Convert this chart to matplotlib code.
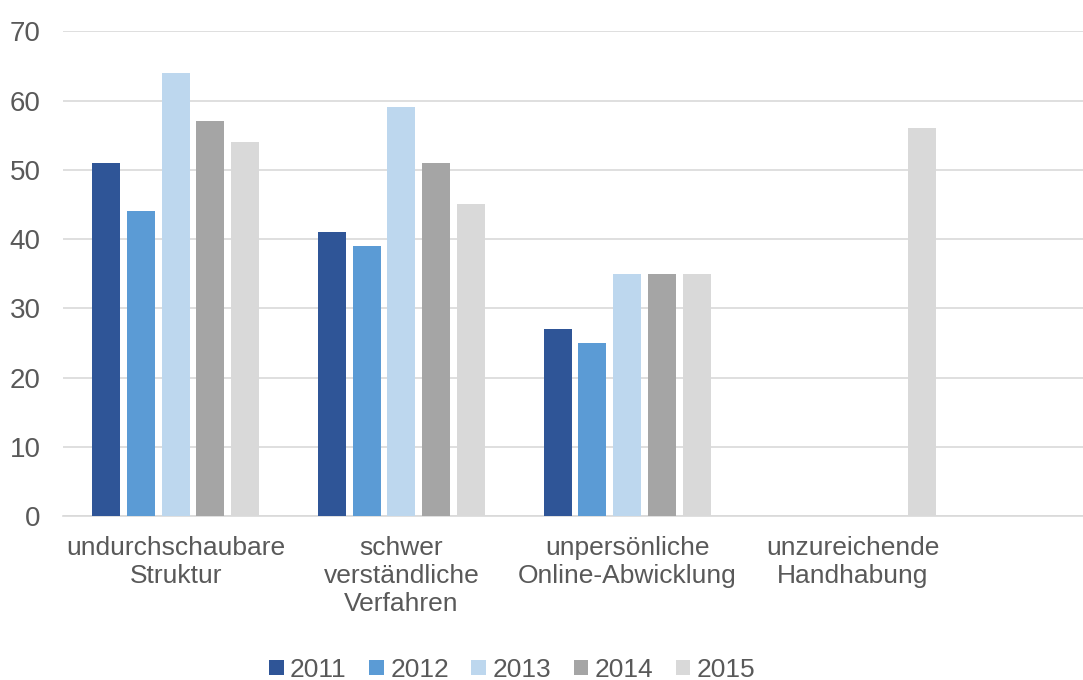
import numpy as np
import matplotlib.pyplot as plt

plt.rcParams['font.family'] = ['Liberation Sans', 'DejaVu Sans']

categories = ['undurchschaubare\nStruktur', 'schwer\nverständliche\nVerfahren',
              'unpersönliche\nOnline-Abwicklung', 'unzureichende\nHandhabung']
years = ['2011', '2012', '2013', '2014', '2015']
values = {
    '2011': [51, 41, 27, np.nan],
    '2012': [44, 39, 25, np.nan],
    '2013': [64, 59, 35, np.nan],
    '2014': [57, 51, 35, np.nan],
    '2015': [54, 45, 35, 56],
}
colors = ['#2F5597', '#5B9BD5', '#BDD7EE', '#A5A5A5', '#D9D9D9']
text_color = '#595959'

fig = plt.figure(figsize=(10.83, 6.8), dpi=100)
ax = fig.add_axes([0.058, 0.241, 0.942, 0.713])

x = np.arange(len(categories))
step = 0.154
width = 0.124
for i, (year, color) in enumerate(zip(years, colors)):
    ax.bar(x + (i - 2) * step, values[year], width=width, color=color,
           label=year, zorder=3)

ax.set_ylim(0, 70)
ax.set_xlim(-0.5, 4.02)
ax.set_yticks(range(0, 71, 10))
ax.set_xticks(x)
ax.set_xticklabels(categories, fontsize=19, color=text_color, linespacing=1.22)
ax.tick_params(axis='y', labelsize=20, labelcolor=text_color, length=0, pad=16)
ax.tick_params(axis='x', length=0, pad=14)
ax.grid(axis='y', color='#D9D9D9', linewidth=1.2, zorder=0)
for side in ['left', 'right', 'top']:
    ax.spines[side].set_visible(False)
ax.spines['bottom'].set_color('#D9D9D9')
ax.spines['bottom'].set_linewidth(1.2)

fig.legend(loc='center', bbox_to_anchor=(0.473, 0.015), ncol=5,
           frameon=False, fontsize=19, labelcolor=text_color,
           handlelength=0.55, handleheight=0.55, handletextpad=0.25,
           columnspacing=0.85, borderpad=0)

fig.savefig('out.png', dpi=100)
